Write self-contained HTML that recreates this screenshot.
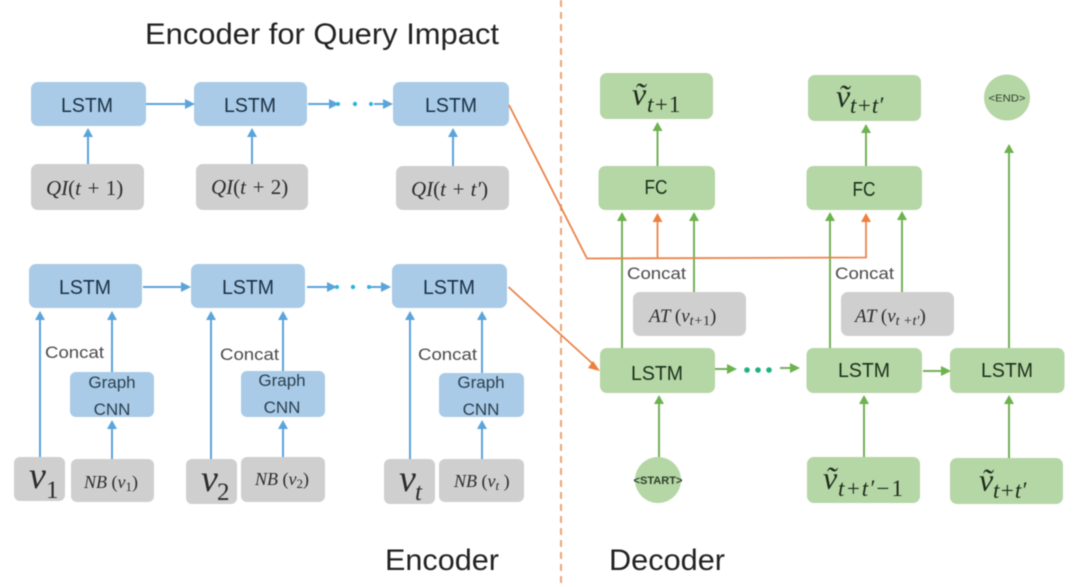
<!DOCTYPE html>
<html><head><meta charset="utf-8"><style>
html,body{margin:0;padding:0;background:#fff;width:1080px;height:587px;overflow:hidden}
svg{display:block;filter:blur(.45px)}
text{font-family:"Liberation Sans",sans-serif}
.t{font-size:30px;fill:#222}
.l{font-size:20px;fill:#1a3044;text-anchor:middle}
.g{font-size:20px;fill:#1a301a;text-anchor:middle}
.gc{font-size:17px;fill:#2b3f50;text-anchor:middle}
.c{font-size:17px;fill:#4a4a4a}
.m{font-family:"Liberation Serif",serif;font-style:italic;fill:#2c2c2c}
.mg{font-family:"Liberation Serif",serif;font-style:italic;fill:#1d2b1d}
.u{font-style:normal}
.b{fill:#a9cbe7}.y{fill:#d0cfcf}.n{fill:#b5d6a5}
.lb{stroke:#5ba4da;stroke-width:2;fill:none}
.lg{stroke:#74b058;stroke-width:2;fill:none}
.lo{stroke:#e9844a;stroke-width:1.8;fill:none}
.hb{fill:#5ba4da}.hg{fill:#6cb24d}.ho{fill:#ee7f3c}
</style></head><body>
<svg width="1080" height="587" viewBox="0 0 1080 587" xmlns="http://www.w3.org/2000/svg">
<line x1="561" y1="0" x2="561" y2="587" stroke="#e8a67c" stroke-width="2" stroke-dasharray="7 5"/>

<!-- encoder boxes -->
<g class="b">
<rect x="31" y="82" width="115" height="44" rx="7"/><rect x="194" y="82" width="113" height="44" rx="7"/><rect x="393" y="82" width="116" height="44" rx="7"/>
<rect x="29" y="264" width="113" height="44" rx="7"/><rect x="191" y="264" width="114" height="44" rx="7"/><rect x="392" y="264" width="115" height="44" rx="7"/>
<rect x="70" y="372" width="84" height="45" rx="6"/><rect x="241" y="371" width="84" height="46" rx="6"/><rect x="439" y="373" width="85" height="44" rx="6"/>
</g>
<g class="y">
<rect x="31" y="164" width="113" height="46" rx="7"/><rect x="196" y="164" width="112" height="46" rx="7"/><rect x="396" y="166" width="113" height="44" rx="7"/>
<rect x="14" y="457" width="51" height="44" rx="6"/><rect x="71" y="459" width="83" height="43" rx="6"/>
<rect x="186" y="459" width="51" height="45" rx="6"/><rect x="241" y="457" width="84" height="45" rx="6"/>
<rect x="384" y="459" width="51" height="45" rx="6"/><rect x="439" y="459" width="85" height="43" rx="6"/>
<rect x="633" y="292" width="113" height="44" rx="7"/><rect x="841" y="292" width="113" height="44" rx="7"/>
</g>
<!-- decoder boxes -->
<g class="n">
<rect x="600" y="73" width="113" height="46" rx="7"/><rect x="808" y="75" width="113" height="46" rx="7"/>
<circle cx="1007" cy="97.5" r="23"/>
<rect x="598.500" y="166" width="116.500" height="44" rx="7"/><rect x="806.500" y="166" width="115.500" height="44" rx="7"/>
<rect x="600" y="348" width="115" height="45" rx="7"/><rect x="806.500" y="348" width="115.500" height="45" rx="7"/><rect x="950" y="348" width="114.500" height="45" rx="7"/>
<circle cx="658" cy="480" r="23"/>
<rect x="807" y="457" width="113" height="46" rx="7"/><rect x="950" y="458" width="113" height="46" rx="7"/>
</g>

<!-- blue lines -->
<g class="lb">
<path d="M146 104H186M308 104H330M374 104H385"/>
<path d="M88 164V136M252 164V136M453 166V136"/>
<path d="M143 287H183M307 287H332M370 287H383"/>
<path d="M40 457V318M112 372V318M112 459V428"/>
<path d="M211 459V318M283 371V318M283 457V428"/>
<path d="M410 459V318M482 373V318M482 459V428"/>
</g>
<g class="hb">
<path d="M195 104l-10-5v10zM339 104l-10-5v10zM393 104l-10-5v10z"/>
<path d="M88 128l-5 9h10zM252 128l-5 9h10zM453 128l-5 9h10z"/>
<path d="M191 287l-10-5v10zM337 287l-10-5v10zM391 287l-10-5v10z"/>
<path d="M40 311l-5 9h10zM112 311l-5 9h10zM112 420l-5 9h10z"/>
<path d="M211 311l-5 9h10zM283 311l-5 9h10zM283 420l-5 9h10z"/>
<path d="M410 311l-5 9h10zM482 311l-5 9h10zM482 420l-5 9h10z"/>
</g>
<g fill="#2fb4dc">
<circle cx="338" cy="104" r="2"/><circle cx="355" cy="104" r="2.200"/><circle cx="371" cy="104" r="2"/>
<circle cx="337" cy="287" r="2"/><circle cx="353" cy="287" r="2.200"/><circle cx="369" cy="287" r="2"/>
</g>

<!-- green lines -->
<g class="lg">
<path d="M622 348V219M694 292V219M830 348V219M902 292V219M1009 348V152"/>
<path d="M657.500 166V130M866 166V132"/>
<path d="M659 457V403M864 457V403M1009 458V403"/>
<path d="M715 369H730M780 368H792M923 371H943"/>
</g>
<g class="hg">
<path d="M622 212l-5 9h10zM694 212l-5 9h10zM830 212l-5 9h10zM902 211l-5 9h10zM1009 144l-5 9h10z"/>
<path d="M657.500 122l-5 9h10zM866 124l-5 9h10z"/>
<path d="M659 395l-5 9h10zM864 395l-5 9h10zM1009 395l-5 9h10z"/>
<path d="M737 369l-10-5v10zM800 368l-10-5v10zM951 371l-10-5v10z"/>
</g>
<g fill="#1fb27e"><circle cx="747" cy="370" r="2.800"/><circle cx="758" cy="370" r="2.800"/><circle cx="769" cy="370" r="2.800"/></g>

<!-- orange lines -->
<g class="lo">
<path d="M509 105L587 258.500L866 257.500V221"/>
<path d="M657.500 258V221"/>
<path d="M508.500 287L593 364"/>
</g>
<g class="ho">
<path d="M657.500 213l-5 9h10zM866 213l-5 9h10z"/>
<path d="M600 371l-12-3 5-7z"/>
</g>

<!-- titles -->
<text class="t" x="145" y="44" textLength="354" lengthAdjust="spacingAndGlyphs">Encoder for Query Impact</text>
<text class="t" x="385" y="570" textLength="114" lengthAdjust="spacingAndGlyphs">Encoder</text>
<text class="t" x="609" y="570" textLength="116" lengthAdjust="spacingAndGlyphs">Decoder</text>

<!-- LSTM labels -->
<text class="l" x="87" y="112" textLength="52" lengthAdjust="spacingAndGlyphs">LSTM</text><text class="l" x="250" y="112" textLength="52" lengthAdjust="spacingAndGlyphs">LSTM</text><text class="l" x="451" y="112" textLength="52" lengthAdjust="spacingAndGlyphs">LSTM</text>
<text class="l" x="85" y="294" textLength="52" lengthAdjust="spacingAndGlyphs">LSTM</text><text class="l" x="248" y="294" textLength="52" lengthAdjust="spacingAndGlyphs">LSTM</text><text class="l" x="449" y="294" textLength="52" lengthAdjust="spacingAndGlyphs">LSTM</text>
<text class="g" x="657" y="380" textLength="52" lengthAdjust="spacingAndGlyphs">LSTM</text><text class="g" x="864" y="377" textLength="52" lengthAdjust="spacingAndGlyphs">LSTM</text><text class="g" x="1007" y="377" textLength="52" lengthAdjust="spacingAndGlyphs">LSTM</text>
<text class="g" x="656" y="194" textLength="23" lengthAdjust="spacingAndGlyphs">FC</text><text class="g" x="864" y="196" textLength="23" lengthAdjust="spacingAndGlyphs">FC</text>

<!-- graph cnn -->
<text class="gc" x="112" y="388">Graph</text><text class="gc" x="112" y="415">CNN</text>
<text class="gc" x="282" y="386">Graph</text><text class="gc" x="282" y="413">CNN</text>
<text class="gc" x="481" y="388">Graph</text><text class="gc" x="481" y="415">CNN</text>

<!-- concat -->
<text class="c" x="45" y="358" textLength="59" lengthAdjust="spacingAndGlyphs">Concat</text>
<text class="c" x="220" y="360" textLength="59" lengthAdjust="spacingAndGlyphs">Concat</text>
<text class="c" x="418" y="360" textLength="59" lengthAdjust="spacingAndGlyphs">Concat</text>
<text class="c" x="627" y="279" textLength="59" lengthAdjust="spacingAndGlyphs">Concat</text>
<text class="c" x="835" y="279" textLength="59" lengthAdjust="spacingAndGlyphs">Concat</text>

<!-- QI -->
<text class="m" font-size="21" x="46" y="195">QI<tspan class="u">(</tspan>t + <tspan class="u">1)</tspan></text>
<text class="m" font-size="21" x="211" y="194">QI<tspan class="u">(</tspan>t + <tspan class="u">2)</tspan></text>
<text class="m" font-size="21" x="411" y="196">QI<tspan class="u">(</tspan>t + t′<tspan class="u">)</tspan></text>

<!-- v inputs -->
<text class="m" font-size="38" x="29" y="488">v</text><text class="m u" font-size="25" x="46" y="498">1</text>
<text class="m" font-size="38" x="201" y="491">v</text><text class="m u" font-size="25" x="217" y="500">2</text>
<text class="m" font-size="38" x="399" y="491">v</text><text class="m" font-size="25" x="415" y="500">t</text>

<!-- NB -->
<text class="m" font-size="18" x="84" y="488">NB <tspan class="u">(</tspan>v<tspan class="u" font-size="13" dy="3">1</tspan><tspan class="u" dy="-3">)</tspan></text>
<text class="m" font-size="18" x="255" y="485">NB <tspan class="u">(</tspan>v<tspan class="u" font-size="13" dy="3">2</tspan><tspan class="u" dy="-3">)</tspan></text>
<text class="m" font-size="18" x="454" y="487">NB <tspan class="u">(</tspan>v<tspan font-size="13" dy="3">t</tspan><tspan class="u" dy="-3"> )</tspan></text>

<!-- AT -->
<text class="m" font-size="19" x="649" y="322">AT <tspan class="u">(</tspan>v<tspan font-size="14" dy="3">t+</tspan><tspan class="u" font-size="14">1</tspan><tspan class="u" dy="-3">)</tspan></text>
<text class="m" font-size="19" x="855" y="322">AT <tspan class="u">(</tspan>v<tspan font-size="14" dy="3">t +t′</tspan><tspan class="u" dy="-3">)</tspan></text>

<!-- v tilde -->
<text class="mg" font-size="32" x="632" y="105">ṽ</text><text class="mg" font-size="23" x="647" y="112">t+<tspan class="u">1</tspan></text>
<text class="mg" font-size="32" x="836" y="107">ṽ</text><text class="mg" font-size="23" x="850" y="113">t+t′</text>
<text class="mg" font-size="32" x="823" y="489">ṽ</text><text class="mg" font-size="23" x="838" y="496" textLength="65">t+t′−<tspan class="u">1</tspan></text>
<text class="mg" font-size="32" x="979" y="491">ṽ</text><text class="mg" font-size="23" x="993" y="498">t+t′</text>

<!-- start/end -->
<text x="1007" y="101.500" font-size="10" fill="#2c3f2c" text-anchor="middle" textLength="37" lengthAdjust="spacingAndGlyphs">&lt;END&gt;</text>
<text x="658" y="484" font-size="11" font-weight="bold" fill="#2c3f2c" text-anchor="middle" textLength="49" lengthAdjust="spacingAndGlyphs">&lt;START&gt;</text>
</svg>
</body></html>
